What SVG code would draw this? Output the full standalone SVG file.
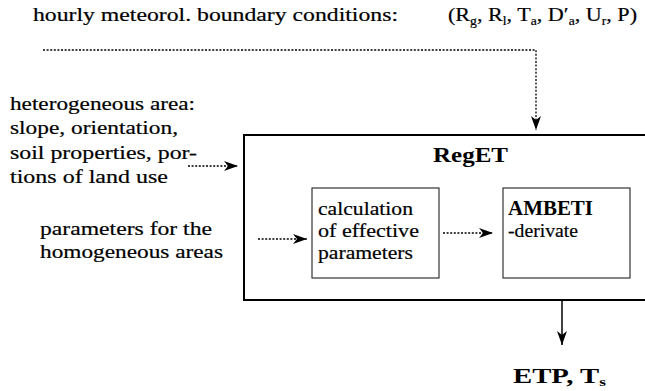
<svg xmlns="http://www.w3.org/2000/svg" width="645" height="391" viewBox="0 0 645 391">
<style>
  text { font-family: 'Liberation Serif', 'Times New Roman', serif; }
  .t { font-size: 19.5px; fill: #000; stroke: #000; stroke-width: 0.2; }
  .b { font-size: 20px; font-weight: bold; fill: #000; }
  .sub { font-size: 12px; }
  .dot { fill: none; stroke: #000; stroke-width: 1.3; stroke-dasharray: 2 1.6; }
  .solid { fill: none; stroke: #000; stroke-width: 1.5; }
  .outer { fill: none; stroke: #000; stroke-width: 2; }
  .inner { fill: none; stroke: #222; stroke-width: 1.1; }
</style>
<defs>
  <marker id="ah" viewBox="0 0 14 10" refX="14" refY="5" markerWidth="14" markerHeight="10" markerUnits="userSpaceOnUse" orient="auto">
    <path d="M0,0 L14,5 L0,10 L4,5 z" fill="#000"/>
  </marker>
</defs>
<rect width="645" height="391" fill="#fff"/>

<g id="title">
  <text class="t" x="33" y="21" textLength="365" lengthAdjust="spacingAndGlyphs">hourly meteorol. boundary conditions:</text>
  <text class="t" x="448" y="21" textLength="189" lengthAdjust="spacingAndGlyphs">(R<tspan class="sub" dy="4">g</tspan><tspan dy="-4">, R</tspan><tspan class="sub" dy="4">l</tspan><tspan dy="-4">, T</tspan><tspan class="sub" dy="4">a</tspan><tspan dy="-4">, D′</tspan><tspan class="sub" dy="4">a</tspan><tspan dy="-4">, U</tspan><tspan class="sub" dy="4">r</tspan><tspan dy="-4">, P)</tspan></text>
</g>

<g id="heterogeneous">
  <text class="t" x="10" y="110" textLength="185" lengthAdjust="spacingAndGlyphs">heterogeneous area:</text>
  <text class="t" x="10" y="134" textLength="168" lengthAdjust="spacingAndGlyphs">slope, orientation,</text>
  <text class="t" x="10" y="159" textLength="187" lengthAdjust="spacingAndGlyphs">soil properties, por-</text>
  <text class="t" x="10" y="183" textLength="158" lengthAdjust="spacingAndGlyphs">tions of land use</text>
</g>

<g id="homogeneous">
  <text class="t" x="40" y="235" textLength="172" lengthAdjust="spacingAndGlyphs">parameters for the</text>
  <text class="t" x="40" y="258" textLength="183" lengthAdjust="spacingAndGlyphs">homogeneous areas</text>
</g>

<g id="reget">
  <rect class="outer" x="244" y="135" width="420" height="165"/>
  <text class="b" x="433" y="162" textLength="75" lengthAdjust="spacingAndGlyphs">RegET</text>
</g>

<g id="calc">
  <rect class="inner" x="312" y="188" width="127" height="90"/>
  <text class="t" x="318" y="215" textLength="95" lengthAdjust="spacingAndGlyphs">calculation</text>
  <text class="t" x="318" y="237" textLength="101" lengthAdjust="spacingAndGlyphs">of effective</text>
  <text class="t" x="318" y="259" textLength="95" lengthAdjust="spacingAndGlyphs">parameters</text>
</g>

<g id="ambeti">
  <rect class="inner" x="503" y="188" width="127" height="90"/>
  <text class="b" x="508" y="215" font-size="19" textLength="85" lengthAdjust="spacingAndGlyphs">AMBETI</text>
  <text class="t" x="508" y="237" textLength="70" lengthAdjust="spacingAndGlyphs">-derivate</text>
</g>

<g id="output">
  <text class="b" x="513" y="383" textLength="93" lengthAdjust="spacingAndGlyphs">ETP, T<tspan class="sub" dy="3">s</tspan></text>
</g>

<g id="connectors">
  <path class="dot" d="M43,50 H536 V130" marker-end="url(#ah)"/>
  <path class="dot" d="M188,166 H238" marker-end="url(#ah)"/>
  <path class="dot" d="M258,239 H307" marker-end="url(#ah)"/>
  <path class="dot" d="M443,233 H493" marker-end="url(#ah)"/>
  <path class="solid" d="M562,300 V345" marker-end="url(#ah)"/>
</g>
</svg>
